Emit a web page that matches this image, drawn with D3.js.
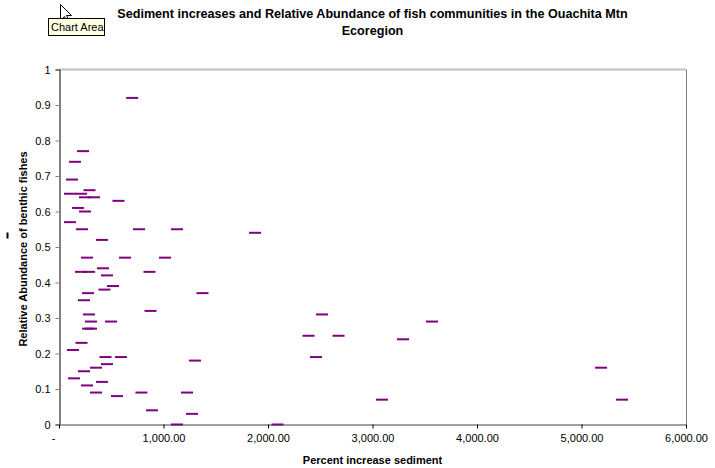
<!DOCTYPE html>
<html>
<head>
<meta charset="utf-8">
<script src="https://cdn.jsdelivr.net/npm/d3@7"></script>
<style>
  html, body { margin: 0; padding: 0; background: #fff; }
  svg { display: block; font-family: "Liberation Sans", Arial, sans-serif; }
</style>
</head>
<body>
<svg id="chart" width="715" height="468"></svg>
<script>
// ---- data ----
const titleLines = ["Sediment increases and Relative Abundance of fish communities in the Ouachita Mtn", "Ecoregion"];
const xAxisTitle = "Percent increase sediment";
const yAxisTitle = "Relative Abundance of benthic fishes";
const xTickValues = [0, 1000, 2000, 3000, 4000, 5000, 6000];
const xTickLabels = ["-", "1,000.00", "2,000.00", "3,000.00", "4,000.00", "5,000.00", "6,000.00"];
const yTickValues = [0, 0.1, 0.2, 0.3, 0.4, 0.5, 0.6, 0.7, 0.8, 0.9, 1];
const yTickLabels = ["0", "0.1", "0.2", "0.3", "0.4", "0.5", "0.6", "0.7", "0.8", "0.9", "1"];
const sedimentIncrease = [
  700, 230, 153, 124, 292, 105, 211, 249, 335, 569,
  182, 249, 105, 220, 766, 1129, 1876, 411, 268, 632,
  1014, 421, 211, 287, 866, 459, 517, 435, 278, 1373,
  239, 876, 287, 306, 498, 278, 306, 215, 134, 445,
  593, 1301, 459, 354, 239, 144, 411, 268, 354, 789,
  1225, 555, 890, 1273, 1129, 2091, 2517, 3569, 2388, 2675,
  3292, 2459, 3091, 5187, 5388
];
const benthicAbundance = [
  0.92, 0.77, 0.74, 0.69, 0.66, 0.65, 0.65, 0.64, 0.64, 0.63,
  0.61, 0.60, 0.57, 0.55, 0.55, 0.55, 0.54, 0.52, 0.47, 0.47,
  0.47, 0.44, 0.43, 0.43, 0.43, 0.42, 0.39, 0.38, 0.37, 0.37,
  0.35, 0.32, 0.31, 0.29, 0.29, 0.27, 0.27, 0.23, 0.21, 0.19,
  0.19, 0.18, 0.17, 0.16, 0.15, 0.13, 0.12, 0.11, 0.09, 0.09,
  0.09, 0.08, 0.04, 0.03, 0.00, 0.00, 0.31, 0.29, 0.25, 0.25,
  0.24, 0.19, 0.07, 0.16, 0.07
];

// ---- layout ----
const svg = d3.select("#chart");
const plot = { left: 59, right: 686, top: 69.5, bottom: 424.5 };
const x = d3.scaleLinear().domain([0, 6000]).range([plot.left, plot.right]);
const y = d3.scaleLinear().domain([0, 1]).range([plot.bottom, plot.top]);
const points = sedimentIncrease.map((v, i) => ({ x: v, y: benthicAbundance[i] }));

// title
svg.append("text")
  .attr("x", 372.5).attr("y", 18)
  .attr("text-anchor", "middle")
  .style("font-size", "12.6px").style("font-weight", "bold")
  .selectAll("tspan").data(titleLines).join("tspan")
  .attr("x", 372.5).attr("dy", (d, i) => i === 0 ? 0 : 17)
  .text(d => d);

// plot frame (top and right borders)
svg.append("line").attr("x1", plot.left).attr("x2", plot.right)
  .attr("y1", plot.top).attr("y2", plot.top)
  .attr("stroke", "#c0c0c0").attr("stroke-width", 2);
svg.append("line").attr("x1", plot.right + 0.5).attr("x2", plot.right + 0.5)
  .attr("y1", plot.top).attr("y2", plot.bottom)
  .attr("stroke", "#808080").attr("stroke-width", 1);

// y axis
const yAxis = d3.axisLeft(y).tickValues(yTickValues)
  .tickFormat((d, i) => yTickLabels[i]).tickSize(4).tickPadding(5);
const gy = svg.append("g").attr("transform", `translate(${plot.left + 0.5},0)`).call(yAxis);
gy.select(".domain").attr("stroke", "#000");
gy.selectAll(".tick line").attr("stroke", "#808080");
gy.selectAll(".tick text").style("font-size", "11px").attr("fill", "#000")
  .style("font-family", "'Liberation Sans', Arial, sans-serif");

// x axis
const xAxis = d3.axisBottom(x).tickValues(xTickValues)
  .tickFormat((d, i) => xTickLabels[i]).tickSize(4).tickPadding(6).tickSizeOuter(0);
const gx = svg.append("g").attr("transform", `translate(0,${plot.bottom})`).call(xAxis);
gx.select(".domain").attr("stroke", "#808080").attr("stroke-width", 1.5);
gx.selectAll(".tick line").attr("stroke", "#000");
gx.selectAll(".tick text").style("font-size", "11px").attr("fill", "#000")
  .style("font-family", "'Liberation Sans', Arial, sans-serif")
  .attr("dx", (d, i) => i === 0 ? -6 : 0);

// axis titles
svg.append("text").attr("x", 372.5).attr("y", 464)
  .attr("text-anchor", "middle")
  .style("font-size", "11px").style("font-weight", "bold")
  .text(xAxisTitle);
svg.append("text")
  .attr("transform", "translate(27,249) rotate(-90)")
  .attr("text-anchor", "middle")
  .style("font-size", "11px").style("font-weight", "bold")
  .text(yAxisTitle);
svg.append("rect").attr("x", 6.5).attr("y", 232.5).attr("width", 2).attr("height", 6).attr("fill", "#000");

// markers (dash)
svg.append("g").selectAll("rect").data(points).join("rect")
  .attr("x", d => x(d.x) - 6)
  .attr("y", d => y(d.y) - 1)
  .attr("width", 12).attr("height", 2)
  .attr("fill", "#800080");

// mouse cursor and tooltip
svg.append("path")
  .attr("d", "M60.5,4.5 L60.5,20.5 L64.5,16.5 L67.5,22.5 L69.5,21.5 L66.5,15.5 L71.5,15.5 Z")
  .attr("fill", "#fff").attr("stroke", "#000").attr("stroke-width", 1);
svg.append("rect").attr("x", 48.5).attr("y", 18.5).attr("width", 56).attr("height", 17)
  .attr("fill", "#ffffe1").attr("stroke", "#000");
svg.append("text").attr("x", 51).attr("y", 31)
  .style("font-size", "11px").text("Chart Area");
</script>
</body>
</html>
